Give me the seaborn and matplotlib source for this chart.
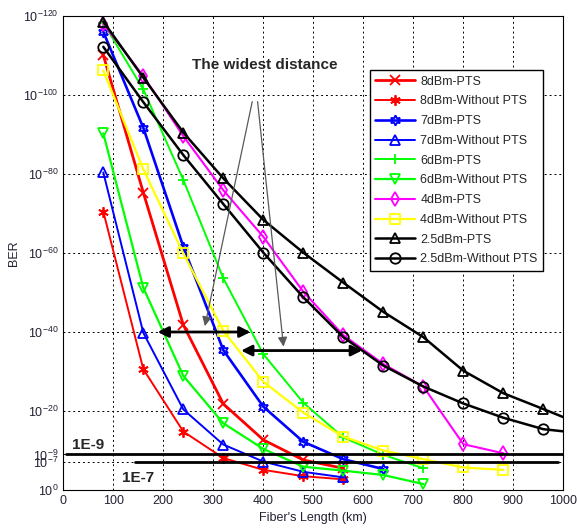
import numpy as np
import pandas as pd
import matplotlib
matplotlib.use("Agg")
import matplotlib.pyplot as plt
import seaborn as sns

# fiber length (km) and -log10(BER)
x_8 = [80, 160, 240, 320, 400, 480, 560]
x_7pts = [80, 160, 240, 320, 400, 480, 560, 640]
x_6 = [80, 160, 240, 320, 400, 480, 560, 640, 720]
x_4 = [80, 160, 240, 320, 400, 480, 560, 640, 720, 800, 880]
x_25 = [80, 160, 240, 320, 400, 480, 560, 640, 720, 800, 880, 960, 1040]

ber_8_pts = [110.1, 75.3, 41.8, 21.8, 12.7, 7.6, 5.5]
ber_8_wo = [70.5, 30.6, 14.8, 8.1, 5.1, 3.5, 2.7]
ber_7_pts = [116.0, 91.7, 61.6, 35.4, 21.1, 12.2, 7.8, 5.3]
ber_7_wo = [80.4, 39.8, 20.4, 11.5, 7.2, 4.6, 3.2]
ber_6_pts = [118.3, 101.4, 78.5, 53.6, 34.4, 22.1, 13.3, 8.9, 5.5]
ber_6_wo = [90.3, 51.2, 28.9, 16.9, 10.4, 5.9, 4.9, 3.8, 1.5]
ber_4_pts = [118.0, 104.8, 89.6, 75.9, 64.1, 50.2, 39.2, 31.9, 26.2, 11.6, 9.3]
ber_4_wo = [106.2, 81.2, 59.9, 40.3, 27.4, 19.6, 13.5, 10.0, 7.8, 5.7, 5.1]
ber_25_pts = [118.6, 104.4, 90.5, 78.9, 68.4, 60.1, 52.5, 45.1, 38.7, 30.2, 24.5, 20.5, 16.4]
ber_25_wo = [112.2, 98.2, 84.8, 72.4, 60.1, 48.8, 38.7, 31.5, 26.2, 21.9, 18.3, 15.4, 14.3]

series = [
    ("8dBm-PTS", x_8, ber_8_pts, "red", "x", 2.0),
    ("8dBm-Without PTS", x_8, ber_8_wo, "red", (6, 2, 0), 1.4),
    ("7dBm-PTS", x_7pts, ber_7_pts, "blue", (6, 1, 0), 1.9),
    ("7dBm-Without PTS", x_8, ber_7_wo, "blue", "^", 1.4),
    ("6dBm-PTS", x_6, ber_6_pts, "lime", "+", 1.4),
    ("6dBm-Without PTS", x_6, ber_6_wo, "lime", "v", 1.6),
    ("4dBm-PTS", x_4, ber_4_pts, "magenta", "d", 1.5),
    ("4dBm-Without PTS", x_4, ber_4_wo, "yellow", "s", 1.6),
    ("2.5dBm-PTS", x_25, ber_25_pts, "black", "^", 1.8),
    ("2.5dBm-Without PTS", x_25, ber_25_wo, "black", "o", 1.8),
]

y_ticks = [0, 7, 9, 20, 40, 60, 80, 100, 120]
x_ticks = list(range(0, 1001, 100))

sns.set_style("white")
plt.rcParams["font.family"] = ["Liberation Sans", "DejaVu Sans"]
plt.rcParams["mathtext.fontset"] = "custom"
plt.rcParams["mathtext.rm"] = "Liberation Sans"

fig = plt.figure(figsize=(5.77, 5.31), dpi=100)
ax = fig.add_axes([0.1097, 0.0772, 0.8666, 0.8927])

for name, xs, ys, c, m, w in series:
    sns.lineplot(x=xs, y=ys, color=c, marker=m, markersize=7.5,
                 markerfacecolor="none", markeredgecolor=c, markeredgewidth=1.3,
                 linewidth=w, label=name, ax=ax, errorbar=None)

# BER thresholds
ax.plot([5, 1000], [9, 9], color="k", lw=2)
ax.plot([143, 990], [7, 7], color="k", lw=2)
ax.text(17, 11.4, "1E-9", fontsize=11, fontweight="bold", va="center")
ax.text(117, 3.0, "1E-7", fontsize=11, fontweight="bold", va="center")

# annotation
ax.text(257, 107.6, "The widest distance", fontsize=11, fontweight="bold", va="center")
ax.annotate("", xy=(282, 40.8), xytext=(379, 99),
            arrowprops=dict(arrowstyle="-|>", color="0.35", lw=0.9, mutation_scale=14))
ax.annotate("", xy=(441, 35.6), xytext=(388, 99),
            arrowprops=dict(arrowstyle="-|>", color="0.35", lw=0.9, mutation_scale=14))
ax.annotate("", xy=(183, 40), xytext=(380, 40),
            arrowprops=dict(arrowstyle="<|-|>", color="k", lw=2, mutation_scale=16))
ax.annotate("", xy=(350, 35.3), xytext=(603, 35.3),
            arrowprops=dict(arrowstyle="<|-|>", color="k", lw=2, mutation_scale=16))

ax.set_xlim(0, 1000)
ax.set_ylim(0, 120)
ax.set_xticks(x_ticks)
ax.set_yticks(y_ticks)
ax.set_yticklabels([r"$\mathregular{10^{%d}}$" % (-v) if v else r"$\mathregular{10^{0}}$" for v in y_ticks])
ax.tick_params(direction="in", length=4, labelsize=9, colors="#222233")
ax.grid(True, linestyle=(0, (2, 3)), color="k", lw=0.7)
for s in ax.spines.values():
    s.set_color("k")
    s.set_linewidth(0.8)

ax.set_xlabel("Fiber's Length (km)", fontsize=9, color="#222233", labelpad=4)
ax.set_ylabel("BER", fontsize=9, color="#222233", labelpad=2)

ax.legend(loc="upper left", bbox_to_anchor=(0.613, 0.886), borderaxespad=0,
          fontsize=9, frameon=True, fancybox=False, edgecolor="k", framealpha=1,
          handlelength=3.2, handletextpad=0.4, labelspacing=0.62, borderpad=0.45)

plt.savefig("out.png", dpi=100)
